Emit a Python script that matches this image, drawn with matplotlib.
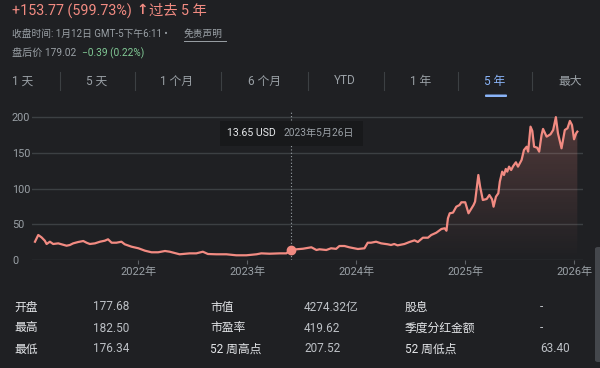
import matplotlib
matplotlib.use('Agg')
import matplotlib.pyplot as plt
import matplotlib.dates as mdates
from matplotlib.patches import FancyBboxPatch, Rectangle
from matplotlib.lines import Line2D
from matplotlib.colors import LinearSegmentedColormap
import numpy as np
import pandas as pd

# ---------------- data ----------------
dates = [
    "2021-01-19", "2021-01-30", "2021-02-10", "2021-02-21", "2021-02-27", "2021-03-10",
    "2021-03-21", "2021-04-07", "2021-04-18", "2021-05-05", "2021-05-16", "2021-05-27",
    "2021-06-13", "2021-06-30", "2021-07-11", "2021-07-22", "2021-08-08", "2021-08-25",
    "2021-09-10", "2021-09-21", "2021-10-03", "2021-10-19", "2021-11-05", "2021-11-16",
    "2021-12-09", "2022-01-01", "2022-01-23", "2022-02-14", "2022-03-08", "2022-03-31",
    "2022-04-16", "2022-05-19", "2022-06-22", "2022-07-14", "2022-08-05", "2022-08-22",
    "2022-09-19", "2022-10-23", "2022-11-25", "2022-12-29", "2023-02-01", "2023-02-17",
    "2023-03-17", "2023-04-20", "2023-05-12", "2023-05-26", "2023-06-15", "2023-07-07",
    "2023-08-04", "2023-08-21", "2023-08-31", "2023-09-23", "2023-10-09", "2023-10-26",
    "2023-11-06", "2023-11-23", "2023-12-09", "2024-01-07", "2024-01-29", "2024-02-09",
    "2024-02-20", "2024-03-08", "2024-03-25", "2024-04-16", "2024-04-27", "2024-05-08",
    "2024-05-19", "2024-06-11", "2024-06-28", "2024-07-15", "2024-07-26", "2024-08-12",
    "2024-08-29", "2024-09-09", "2024-09-26", "2024-10-13", "2024-10-24", "2024-10-30",
    "2024-11-04", "2024-11-10", "2024-11-21", "2024-12-02", "2024-12-13", "2024-12-19",
    "2025-01-01", "2025-01-12", "2025-01-29", "2025-02-03", "2025-02-14", "2025-02-20",
    "2025-03-01", "2025-03-14", "2025-03-23", "2025-04-01", "2025-04-06", "2025-04-14",
    "2025-04-22", "2025-04-27", "2025-05-05", "2025-05-11", "2025-05-17", "2025-05-22",
    "2025-05-28", "2025-06-04", "2025-06-11", "2025-06-20", "2025-06-27", "2025-07-09",
    "2025-07-17", "2025-07-26", "2025-07-31", "2025-08-08", "2025-08-14", "2025-08-20",
    "2025-08-30", "2025-09-06", "2025-09-14", "2025-09-19", "2025-10-01", "2025-10-14",
    "2025-10-23", "2025-11-01", "2025-11-08", "2025-11-20", "2025-12-01", "2025-12-10",
    "2025-12-18", "2025-12-25", "2026-01-01", "2026-01-08", "2026-01-12",
]
prices = [
    25.6, 35.0, 31.7, 27.0, 22.4, 25.6,
    22.4, 23.3, 22.0, 20.0, 21.0, 23.3,
    25.2, 26.6, 24.2, 22.4, 23.3, 25.6,
    27.0, 29.0, 24.2, 24.2, 25.6, 22.0,
    18.6, 16.4, 13.0, 10.8, 10.8, 12.6,
    11.6, 8.0, 9.3, 9.3, 11.6, 8.4,
    8.0, 8.0, 6.6, 6.6, 8.0, 9.3,
    8.8, 9.3, 9.3, 13.65, 15.0, 15.8,
    17.8, 14.0, 15.0, 14.0, 16.4, 15.6,
    19.6, 19.6, 17.8, 15.4, 16.4, 24.2,
    24.2, 25.6, 23.3, 22.0, 21.0, 22.4,
    20.5, 22.4, 25.2, 27.5, 25.2, 31.2,
    31.2, 35.0, 38.2, 43.4, 44.4, 41.0,
    58.4, 65.4, 66.3, 74.6, 77.0, 80.8,
    80.8, 65.4, 77.0, 81.7, 119.0, 102.5,
    84.0, 85.4, 91.0, 85.0, 74.6, 88.6,
    93.4, 109.7, 123.7, 119.0, 127.5, 123.7,
    130.7, 126.0, 131.6, 136.8, 130.7, 140.0,
    154.0, 158.6, 151.7, 186.7, 180.7, 158.6,
    157.3, 151.7, 175.0, 183.5, 172.7, 176.0,
    182.0, 200.0, 177.4, 156.4, 182.0, 184.4,
    194.7, 189.0, 169.0, 177.4, 179.7,
]
hover_date = "2023-05-26"
hover_price = 13.65
y_ticks = [0, 50, 100, 150, 200]
x_tick_dates = ["2022-01-01", "2023-01-01", "2024-01-01", "2025-01-01", "2026-01-01"]
x_tick_labels = ["2022年", "2023年", "2024年", "2025年", "2026年"]

header_change = "+153.77 (599.73%)"
header_period = "过去 5 年"
close_text = "收盘时间: 1月12日 GMT-5下午6:11 •"
disclaimer = "免责声明"
after_label = "盘后价 179.02"
after_change = "−0.39 (0.22%)"
tabs = ["1 天", "5 天", "1 个月", "6 个月", "YTD", "1 年", "5 年", "最大"]
active_tab = "5 年"
table_rows = [
    ["开盘", "177.68", "市值", "4274.32亿", "股息", "-"],
    ["最高", "182.50", "市盈率", "419.62", "季度分红金额", "-"],
    ["最低", "176.34", "52 周高点", "207.52", "52 周低点", "63.40"],
]

# ---------------- style ----------------
W, H = 600, 368
BG = '#1f2023'
RED = '#f28b82'
GRAY = '#9aa0a6'
GRID = '#3c4043'
plt.rcParams['font.family'] = ['Roboto', 'Noto Sans CJK SC', 'DejaVu Sans']

fig = plt.figure(figsize=(W / 100, H / 100), dpi=100, facecolor=BG)


def fx(x):
    return x / W


def fy(y):
    return 1 - y / H


def T(x, y, s, **kw):
    kw.setdefault('va', 'center')
    return fig.text(fx(x), fy(y), s, **kw)


# header
T(12, 11, header_change, color=RED, fontsize=10.3)
T(136.5, 10, "↑", color=RED, fontsize=10, fontweight='bold', family=['DejaVu Sans'])
T(149, 11, header_period, color=RED, fontsize=10.3)
T(12, 34, close_text, color=GRAY, fontsize=7.0)
T(184, 34, disclaimer, color=GRAY, fontsize=7.0)
fig.add_artist(Line2D([fx(184), fx(226)], [fy(40.5), fy(40.5)], color=GRAY, lw=0.7))
T(12, 53, after_label, color=GRAY, fontsize=7.3)
T(82, 53, after_change, color='#81c995', fontsize=7.3)

# tabs
tab_x = [23, 97, 177, 264, 345, 421, 495, 570]
sep_x = [60, 135, 221, 308, 384, 458, 532]
for x, t in zip(tab_x, tabs):
    T(x, 81, t, color='#8ab4f8' if t == active_tab else GRAY, fontsize=8.5, ha='center')
for x in sep_x:
    fig.add_artist(Line2D([fx(x), fx(x)], [fy(72), fy(90)], color=GRID, lw=0.8))
fig.add_artist(FancyBboxPatch((fx(485), fy(97)), fx(22), 2.5 / H,
                              boxstyle='round,pad=0,rounding_size=0.002',
                              transform=fig.transFigure, color='#8ab4f8', lw=0))

# ---------------- chart ----------------
d = pd.to_datetime(dates)
p = np.array(prices)
ax = fig.add_axes([fx(32), fy(260), (583 - 32) / W, (260 - 110) / H])
ax.set_facecolor(BG)
ax.plot(d, p, color=RED, lw=1.6, zorder=4, solid_joinstyle='round')

# gradient fill after hover point
hd = pd.Timestamp(hover_date)
mask = d >= hd
poly = ax.fill_between(d[mask], p[mask], 0, color='none', lw=0)
cmap = LinearSegmentedColormap.from_list('g', [(0.949, 0.545, 0.51, 0.0), (0.949, 0.545, 0.51, 0.24)])
grad = np.linspace(0, 1, 256).reshape(-1, 1)
x0 = mdates.date2num(d[mask][0])
x1 = mdates.date2num(d[mask][-1])
im = ax.imshow(grad, extent=[x0, x1, 0, 200], origin='lower', aspect='auto', cmap=cmap, zorder=2)
im.set_clip_path(poly.get_paths()[0], transform=ax.transData)

ax.set_xlim(pd.Timestamp("2021-01-09"), pd.Timestamp("2026-01-31"))
ax.set_ylim(0, 210)
for s in ax.spines.values():
    s.set_visible(False)
ax.set_yticks(y_ticks)
ax.set_yticklabels([str(v) for v in y_ticks])
ax.yaxis.grid(True, color=GRID, lw=1)
ax.set_axisbelow(True)
ax.tick_params(axis='y', length=0, pad=14.4, labelsize=7.8, labelcolor=GRAY)
for lbl in ax.get_yticklabels():
    lbl.set_horizontalalignment('left')
ax.set_xticks(pd.to_datetime(x_tick_dates))
ax.set_xticklabels(x_tick_labels)
ax.tick_params(axis='x', length=3, width=0.8, color='#5f6368', pad=2, labelsize=8, labelcolor=GRAY)

ax.axvline(hd, color=GRAY, lw=0.8, ls=(0, (1, 2)), zorder=3)
ax.plot([hd], [hover_price], 'o', ms=6, color=RED, zorder=5)

# tooltip
fig.add_artist(Rectangle((fx(220), fy(146)), (363 - 220) / W, 25 / H,
                         transform=fig.transFigure, color='#18191b', lw=0, zorder=6))
T(227, 133, f"{hover_price:.2f} USD", color='#e8eaed', fontsize=7.6, zorder=7)
T(284, 133, "2023年5月26日", color=GRAY, fontsize=7.3, zorder=7)

# ---------------- table ----------------
col_x = [14, 93, 210, 304, 405, 540]
row_y = [307, 328, 349]
for ry, row in zip(row_y, table_rows):
    for i, (cx, s) in enumerate(zip(col_x, row)):
        T(cx, ry, s, color='#e3e5e8' if i % 2 == 0 else '#bdc1c6', fontsize=8.5)

# scrollbar hint
fig.add_artist(FancyBboxPatch((fx(595), fy(362)), fx(10), 115 / H,
                              boxstyle='round,pad=0,rounding_size=0.005',
                              transform=fig.transFigure, color='#44474c', lw=0))

fig.savefig('out.png', dpi=100, facecolor=BG)
